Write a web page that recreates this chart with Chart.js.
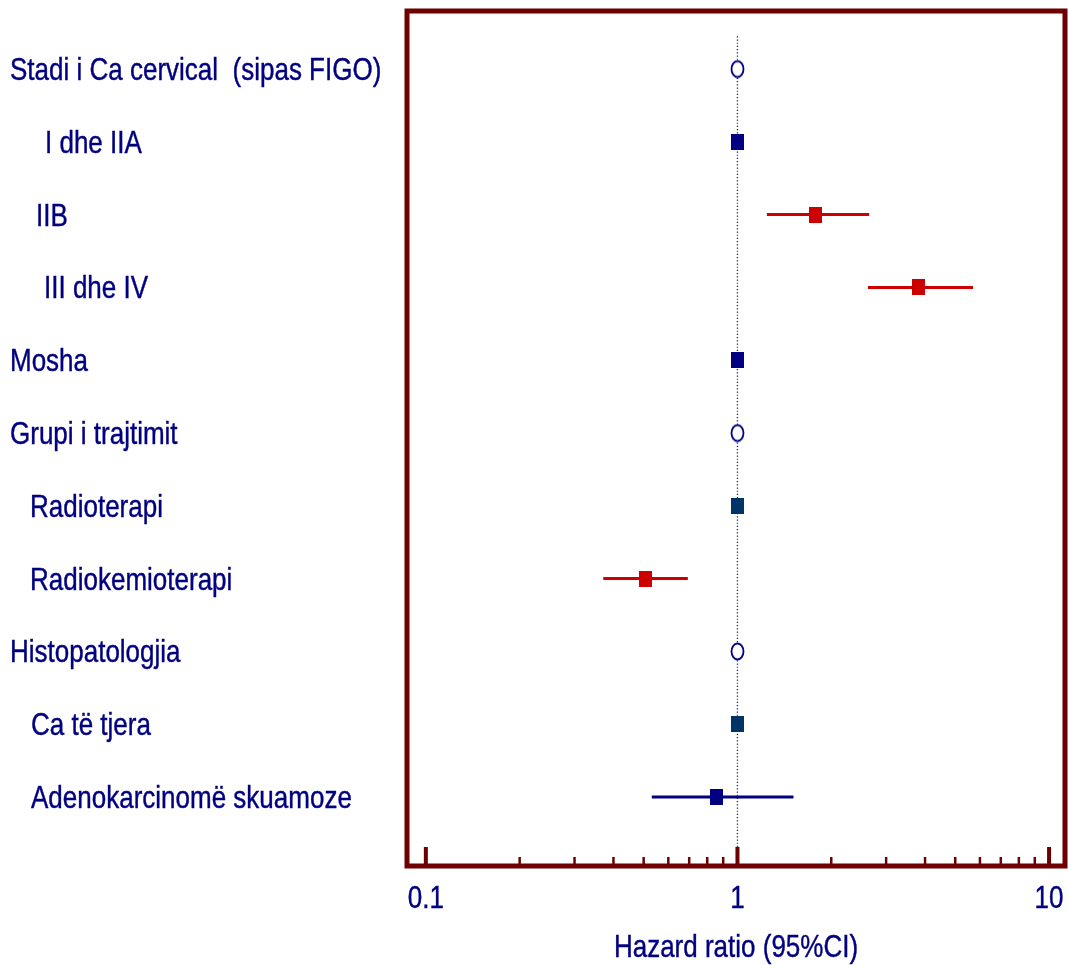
<!DOCTYPE html>
<html>
<head>
<meta charset="utf-8">
<title>Hazard ratio</title>
<script src="https://cdn.jsdelivr.net/npm/chart.js@4.4.1/dist/chart.umd.min.js"></script>
<style>
  html, body { margin: 0; padding: 0; background: #fff; overflow: hidden; }
  #wrap { width: 1068px; height: 965px; }
  canvas { display: block; }
</style>
</head>
<body>
<div id="wrap"><canvas id="forest" width="1068" height="965"></canvas></div>
<script>
// rows, top to bottom
const rowLabels = [
  "Stadi i Ca cervical  (sipas FIGO)",
  "I dhe IIA",
  "IIB",
  "III dhe IV",
  "Mosha",
  "Grupi i trajtimit",
  "Radioterapi",
  "Radiokemioterapi",
  "Histopatologjia",
  "Ca të tjera",
  "Adenokarcinomë skuamoze",
];
const hazardRatio = [1, 1, 1.785, 3.81, 1, 1, 1, 0.508, 1, 1, 0.854];
const ciLow = [null, null, 1.243, 2.623, null, null, null, 0.371, null, null, 0.531];
const ciHigh = [null, null, 2.647, 5.70, null, null, null, 0.693, null, null, 1.513];
// group headers get an open circle instead of a square
const isHeader = [true, false, false, false, false, true, false, false, true, false, false];

const majorTicks = [0.1, 1, 10];
const minorTicks = [0.2, 0.3, 0.4, 0.5, 0.6, 0.7, 0.8, 0.9, 2, 3, 4, 5, 6, 7, 8, 9];
const tickLabels = ["0.1", "1", "10"];
const axisTitle = "Hazard ratio (95%CI)";

// styling
const NAVY = "#000080";
const TEAL = "#003366";
const RED = "#cc0000";
const FRAME = "#6e0000";
const markerColor = [NAVY, NAVY, RED, RED, NAVY, NAVY, TEAL, RED, NAVY, TEAL, NAVY];
const labelX = [10, 45, 36, 44, 10, 10, 30, 30, 10, 31, 31];
const FONT = '26px "Liberation Sans", Arial, sans-serif';
const STRETCH = 1.18;

function rectMarker(color) {
  const c = document.createElement("canvas");
  c.width = 13; c.height = 16;
  const g = c.getContext("2d");
  g.fillStyle = color;
  g.fillRect(0, 0, 13, 16);
  return c;
}
function circleMarker(color) {
  const c = document.createElement("canvas");
  c.width = 15; c.height = 19;
  const g = c.getContext("2d");
  g.fillStyle = "#fff";
  g.strokeStyle = color;
  g.lineWidth = 1.8;
  g.beginPath();
  g.ellipse(7.5, 9.5, 6, 8, 0, 0, Math.PI * 2);
  g.fill();
  g.stroke();
  return c;
}

const markerStyles = hazardRatio.map((v, i) =>
  isHeader[i] ? circleMarker(markerColor[i]) : rectMarker(markerColor[i])
);

const datasets = [
  {
    label: "HR",
    data: hazardRatio.map((v, i) => ({ x: v, y: i })),
    pointStyle: markerStyles,
    pointRadius: 8,
    showLine: false,
    order: 0,
  },
];

hazardRatio.forEach((v, i) => {
  if (ciLow[i] == null) return;
  datasets.push({
    label: "CI " + i,
    data: [{ x: ciLow[i], y: i }, { x: ciHigh[i], y: i }],
    borderColor: markerColor[i],
    borderWidth: 3,
    pointRadius: 0,
    showLine: true,
    order: 1,
  });
});

// dotted line of no effect
datasets.push({
  label: "ref",
  data: [{ x: 1, y: -0.45 }, { x: 1, y: 10.69 }],
  borderColor: "#1a1a99",
  borderWidth: 1.3,
  borderDash: [1.2, 2],
  pointRadius: 0,
  showLine: true,
  order: 2,
});

function stretchedText(ctx, text, x, y, align) {
  ctx.save();
  ctx.translate(x, y);
  ctx.scale(1, STRETCH);
  ctx.textAlign = align;
  ctx.textBaseline = "alphabetic";
  ctx.fillText(text, 0, 0);
  ctx.strokeText(text, 0, 0);
  ctx.restore();
}

const framePlugin = {
  id: "frame",
  afterDraw(chart) {
    const { ctx, chartArea: a, scales } = chart;
    const xs = scales.x, ys = scales.y;
    ctx.save();
    ctx.strokeStyle = FRAME;
    ctx.lineWidth = 5;
    ctx.strokeRect(a.left, a.top, a.right - a.left, a.bottom - a.top);

    ctx.lineCap = "butt";
    ctx.lineWidth = 2.5;
    minorTicks.forEach((t) => {
      const px = xs.getPixelForValue(t);
      ctx.beginPath();
      ctx.moveTo(px, a.bottom);
      ctx.lineTo(px, a.bottom - 9);
      ctx.stroke();
    });
    ctx.lineWidth = 4;
    majorTicks.forEach((t) => {
      const px = xs.getPixelForValue(t);
      ctx.beginPath();
      ctx.moveTo(px, a.bottom);
      ctx.lineTo(px, a.bottom - 19);
      ctx.stroke();
    });

    // text gets a hairline outline so it sits as heavy as the marks
    ctx.fillStyle = NAVY;
    ctx.strokeStyle = NAVY;
    ctx.lineWidth = 0.35;
    ctx.font = FONT;
    majorTicks.forEach((t, i) => {
      stretchedText(ctx, tickLabels[i], xs.getPixelForValue(t), a.bottom + 42, "center");
    });
    stretchedText(ctx, axisTitle, (a.left + a.right) / 2, a.bottom + 91, "center");

    rowLabels.forEach((lab, i) => {
      stretchedText(ctx, lab, labelX[i], ys.getPixelForValue(i) + 11, "left");
    });
    ctx.restore();
  },
};

new Chart(document.getElementById("forest"), {
  type: "scatter",
  data: { datasets },
  options: {
    responsive: false,
    animation: false,
    devicePixelRatio: 1,
    layout: { autoPadding: false, padding: { left: 407, right: 3, top: 11, bottom: 99 } },
    plugins: { legend: { display: false }, tooltip: { enabled: false } },
    scales: {
      x: { type: "logarithmic", min: 0.087, max: 11.25, display: false },
      y: { type: "linear", reverse: true, min: -0.797, max: 10.948, display: false },
    },
  },
  plugins: [framePlugin],
});
</script>
</body>
</html>
